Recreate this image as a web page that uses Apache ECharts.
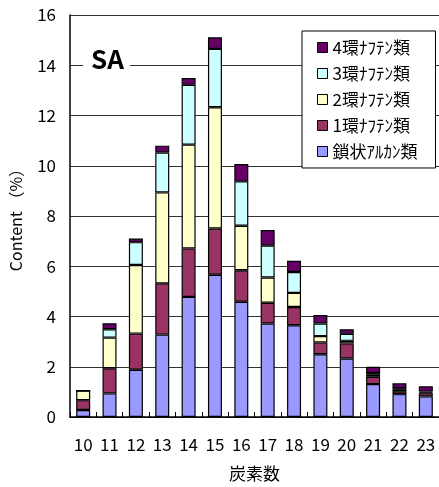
<!DOCTYPE html>
<html>
<head>
<meta charset="utf-8">
<script src="https://cdn.jsdelivr.net/npm/echarts@6/dist/echarts.min.js"></script>
<style>
  html, body { margin: 0; padding: 0; background: #fff; }
  #chart { width: 439px; height: 487px; }
</style>
</head>
<body>
<div id="chart"></div>
<script>
// Carbon number categories
const carbonNumbers = ['10','11','12','13','14','15','16','17','18','19','20','21','22','23'];

// Content (%) for each hydrocarbon class
const chainAlkanes   = [0.28, 0.94, 1.88, 3.28, 4.78, 5.66, 4.59, 3.72, 3.65, 2.50, 2.33, 1.31, 0.91, 0.82];
const oneRing        = [0.39, 1.00, 1.44, 2.04, 1.93, 1.84, 1.25, 0.83, 0.73, 0.47, 0.60, 0.29, 0.11, 0.13];
const twoRing        = [0.38, 1.22, 2.73, 3.62, 4.13, 4.83, 1.77, 1.00, 0.56, 0.25, 0.10, 0.08, 0.06, 0.03];
const threeRing      = [0.00, 0.33, 0.91, 1.59, 2.38, 2.32, 1.77, 1.27, 0.83, 0.50, 0.28, 0.07, 0.07, 0.03];
const fourRing       = [0.00, 0.24, 0.14, 0.27, 0.27, 0.46, 0.69, 0.62, 0.45, 0.34, 0.18, 0.25, 0.19, 0.21];

const seriesNames = ['鎖状ｱﾙｶﾝ類', '1環ﾅﾌﾃﾝ類', '2環ﾅﾌﾃﾝ類', '3環ﾅﾌﾃﾝ類', '4環ﾅﾌﾃﾝ類'];
const seriesColors = ['#9999FF', '#993366', '#FFFFCC', '#CCFFFF', '#660066'];
const seriesValues = [chainAlkanes, oneRing, twoRing, threeRing, fourRing];

const FONT = "'Liberation Sans Narrow', 'Noto Sans CJK JP', sans-serif";

const chart = echarts.init(document.getElementById('chart'), null, { renderer: 'canvas' });

chart.setOption({
  animation: false,
  backgroundColor: '#ffffff',
  textStyle: { fontFamily: FONT, color: '#000' },
  title: {
    text: 'SA',
    left: 83,
    top: 46,
    padding: [0, 6, 0, 8],
    backgroundColor: '#ffffff',
    textStyle: { fontFamily: FONT, fontSize: 26, fontWeight: 'bold', color: '#000' }
  },
  legend: {
    data: seriesNames.slice().reverse(),
    orient: 'vertical',
    left: 302,
    top: 31,
    padding: [8, 18, 8, 15],
    itemGap: 9,
    itemWidth: 10,
    itemHeight: 10,
    backgroundColor: '#ffffff',
    borderColor: '#000',
    borderWidth: 1,
    textStyle: { fontFamily: FONT, fontSize: 17, color: '#000' },
    icon: 'rect',
    itemStyle: { borderColor: '#000', borderWidth: 1 }
  },
  grid: { left: 70, top: 15, width: 370, bottom: 69 },
  xAxis: {
    type: 'category',
    data: carbonNumbers,
    name: '炭素数',
    nameLocation: 'middle',
    nameGap: 48,
    nameTextStyle: { fontFamily: FONT, fontSize: 17, color: '#000' },
    axisLine: { lineStyle: { color: '#000', width: 1.5 } },
    axisTick: { show: true, inside: true, length: 5, lineStyle: { color: '#000' } },
    axisLabel: { fontFamily: FONT, fontSize: 17, color: '#000', margin: 19 }
  },
  yAxis: {
    type: 'value',
    min: 0,
    max: 16,
    interval: 2,
    name: 'Content （%）',
    nameLocation: 'middle',
    nameGap: 46,
    nameRotate: 90,
    nameTextStyle: { fontFamily: FONT, fontSize: 16, color: '#000' },
    axisLine: { show: true, lineStyle: { color: '#000', width: 1.5 } },
    axisTick: { show: false },
    axisLabel: { fontFamily: FONT, fontSize: 17, color: '#000', margin: 14 },
    splitLine: { lineStyle: { color: '#333', width: 1 } }
  },
  series: seriesNames.map((name, i) => ({
    name: name,
    type: 'bar',
    stack: 'total',
    barWidth: 14,
    data: seriesValues[i],
    itemStyle: { color: seriesColors[i], borderColor: '#000', borderWidth: 1.2 }
  }))
});
</script>
</body>
</html>
